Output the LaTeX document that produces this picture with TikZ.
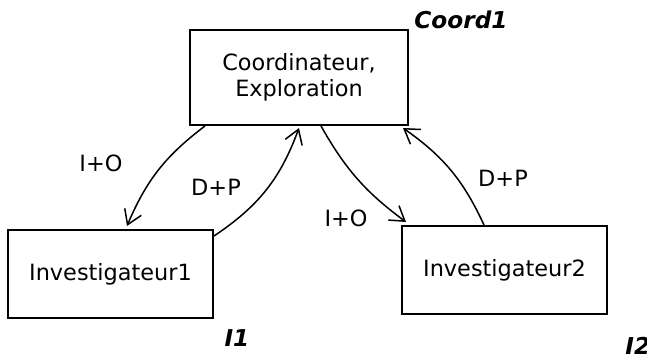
\documentclass[tikz,border=0pt]{standalone}
\usepackage{fontspec}
\setmainfont{DejaVu Sans}
\usetikzlibrary{arrows.meta}

\tikzset{
	box/.style={draw=black, line width=1pt, minimum width=102.5pt, minimum height=44pt, align=center, inner sep=2pt},
	tag/.style={font=\fontsize{11.6}{14}\selectfont\bfseries\itshape},
	flow/.style={line width=0.75pt, -{Straight Barb[length=7pt,width=9pt]}},
}

\begin{document}
\begin{tikzpicture}[x=0.5pt, y=0.5pt, font=\fontsize{11.2}{13}\selectfont]
	\useasboundingbox (0,0) rectangle (647,356);

	\node (coord) [box, minimum width=109pt, minimum height=47.5pt] at (299,278.5) {Coordinateur,\\Exploration};
	\node (i1) [box] at (110.5,82) {Investigateur1};
	\node (i2) [box] at (504.5,86) {Investigateur2};

	\node (coordtag) [tag] at (461,336) {Coord1};
	\node (i1tag) [tag] at (237,18) {I1};
	\node (i2tag) [tag, anchor=west, inner sep=0pt] at (625,10) {I2};

	\draw [flow] ([xshift=8pt]coord.south west) to [bend right=15] ([xshift=60pt,yshift=1.5pt]i1.north west);
	\draw [flow] ([yshift=-3.5pt]i1.north east) to [bend right=18] ([yshift=-1pt]coord.south);
	\draw [flow] ([xshift=11pt]coord.south) to [bend right=12] ([xshift=2.5pt,yshift=1.5pt]i2.north west);
	\draw [flow] ([xshift=41.5pt]i2.north west) to [bend right=15] ([xshift=-3pt,yshift=-1pt]coord.south east);

	\node (io1) at (101,193) {I+O};
	\node (dp1) at (216,169) {D+P};
	\node (io2) at (346,138) {I+O};
	\node (dp2) at (503,178) {D+P};
\end{tikzpicture}
\end{document}
